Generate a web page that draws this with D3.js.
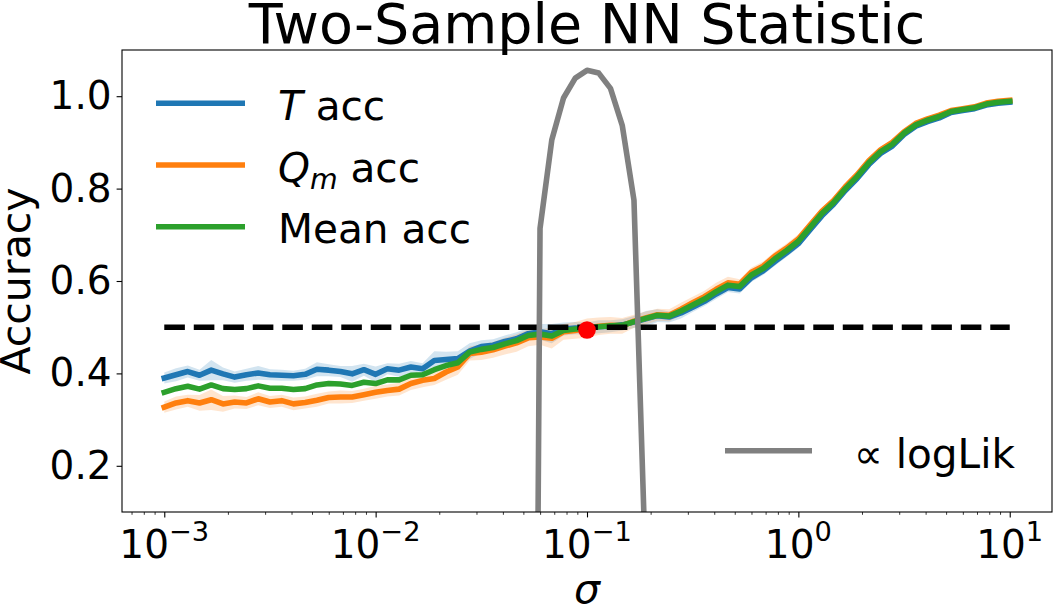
<!DOCTYPE html>
<html>
<head>
<meta charset="utf-8">
<script src="https://cdn.jsdelivr.net/npm/d3@7"></script>
<style>
  body { margin: 0; background: #fff; }
  text { font-family: "DejaVu Sans", sans-serif; fill: #000; }
</style>
</head>
<body>
<div id="chart"></div>
<script>
// sigma grid: np.logspace(-3, 1, 73)
const sigma = d3.range(73).map(i => Math.pow(10, -3 + i / 18));

// T accuracy
const accT = [
  0.390,0.397,0.404,0.396,0.407,0.399,0.392,0.397,0.401,0.397,
  0.396,0.395,0.398,0.409,0.407,0.404,0.399,0.408,0.398,0.410,
  0.407,0.414,0.410,0.428,0.430,0.432,0.448,0.458,0.461,0.469,
  0.475,0.486,0.490,0.486,0.496,0.498,0.497,0.501,0.502,0.505,
  0.511,0.518,0.525,0.522,0.531,0.543,0.556,0.572,0.586,0.583,
  0.607,0.622,0.642,0.661,0.681,0.711,0.741,0.766,0.796,0.822,
  0.852,0.876,0.892,0.917,0.935,0.945,0.953,0.965,0.969,0.973,
  0.981,0.985,0.987
];
// Q_m accuracy
const accQ = [
  0.327,0.336,0.341,0.336,0.343,0.334,0.338,0.336,0.345,0.338,
  0.341,0.334,0.337,0.342,0.348,0.349,0.349,0.354,0.359,0.363,
  0.366,0.378,0.385,0.389,0.403,0.414,0.443,0.446,0.451,0.459,
  0.466,0.477,0.479,0.476,0.490,0.493,0.498,0.502,0.504,0.503,
  0.513,0.520,0.527,0.526,0.539,0.553,0.566,0.582,0.596,0.593,
  0.619,0.632,0.654,0.671,0.691,0.721,0.751,0.774,0.804,0.830,
  0.860,0.884,0.900,0.923,0.941,0.951,0.959,0.969,0.973,0.977,
  0.985,0.989,0.991
];
// mean accuracy
const accMean = [
  0.359,0.367,0.372,0.366,0.375,0.367,0.365,0.367,0.373,0.368,
  0.368,0.365,0.367,0.375,0.378,0.377,0.374,0.381,0.378,0.386,
  0.386,0.396,0.397,0.408,0.417,0.423,0.446,0.452,0.456,0.464,
  0.471,0.482,0.485,0.481,0.493,0.496,0.497,0.501,0.503,0.504,
  0.512,0.519,0.526,0.524,0.535,0.548,0.561,0.577,0.591,0.588,
  0.613,0.627,0.648,0.666,0.686,0.716,0.746,0.770,0.800,0.826,
  0.856,0.880,0.896,0.920,0.938,0.948,0.956,0.967,0.971,0.975,
  0.983,0.987,0.989
];
// shaded band half-widths
const errT = [
  0.012,0.014,0.013,0.012,0.022,0.014,0.012,0.013,0.015,0.012,
  0.012,0.011,0.012,0.015,0.013,0.012,0.017,0.013,0.017,0.012,
  0.014,0.013,0.012,0.020,0.017,0.016,0.017,0.014,0.013,0.013,
  0.014,0.013,0.017,0.021,0.014,0.013,0.013,0.014,0.013,0.012,
  0.013,0.017,0.014,0.012,0.012,0.010,0.010,0.011,0.010,0.010,
  0.009,0.009,0.009,0.009,0.009,0.008,0.008,0.007,0.007,0.007,
  0.007,0.006,0.006,0.006,0.005,0.005,0.005,0.004,0.004,0.004,
  0.004,0.004,0.004
];
const errQ = [
  0.012,0.014,0.013,0.017,0.022,0.017,0.014,0.013,0.014,0.013,
  0.013,0.014,0.013,0.014,0.013,0.014,0.013,0.013,0.014,0.013,
  0.014,0.014,0.015,0.014,0.017,0.017,0.015,0.017,0.017,0.018,
  0.019,0.018,0.017,0.022,0.017,0.018,0.021,0.019,0.018,0.017,
  0.014,0.014,0.013,0.013,0.014,0.013,0.013,0.014,0.013,0.011,
  0.010,0.010,0.010,0.010,0.010,0.009,0.008,0.008,0.008,0.007,
  0.007,0.007,0.006,0.006,0.006,0.005,0.005,0.004,0.004,0.004,
  0.004,0.004,0.004
];
// scaled log-likelihood, visible part only (starts at sigma index 31)
const logLikStart = 31;
const logLik = [-3.0, 0.714, 0.905, 0.996, 1.039, 1.056, 1.050, 1.017, 0.937, 0.775, -0.03];

const chanceSigma = [1e-3, 1e1];
const chanceLevel = 0.5;
const bestSigma = 0.1, bestAcc = 0.494;

const yTicks = [0.2, 0.4, 0.6, 0.8, 1.0];
const xMajor = [-3, -2, -1, 0, 1];

const width = 1055, height = 608;
const margin = { top: 50, right: 3, bottom: 96, left: 122 };
const plotW = width - margin.left - margin.right;
const plotH = height - margin.top - margin.bottom;

const svg = d3.select("#chart").append("svg")
  .attr("width", width)
  .attr("height", height);

const g = svg.append("g")
  .attr("transform", `translate(${margin.left},${margin.top})`);

const x = d3.scaleLog()
  .domain([Math.pow(10, -3.2), Math.pow(10, 1.2)])
  .range([0, plotW]);
const y = d3.scaleLinear()
  .domain([0.1, 1.1])
  .range([plotH, 0]);

g.append("clipPath").attr("id", "clip")
  .append("rect").attr("width", plotW).attr("height", plotH);

const plot = g.append("g").attr("clip-path", "url(#clip)");

const series = [
  { vals: accT, err: errT, color: "#1f77b4" },
  { vals: accQ, err: errQ, color: "#ff7f0e" },
  { vals: accMean, err: null, color: "#2ca02c" }
];

// bands
series.filter(s => s.err).forEach(s => {
  const area = d3.area()
    .x((d, i) => x(sigma[i]))
    .y0((d, i) => y(d - s.err[i]))
    .y1((d, i) => y(d + s.err[i]));
  plot.append("path")
    .attr("d", area(s.vals))
    .attr("fill", s.color)
    .attr("fill-opacity", 0.2);
});

// lines
series.forEach(s => {
  const line = d3.line().x((d, i) => x(sigma[i])).y(d => y(d));
  plot.append("path")
    .attr("d", line(s.vals))
    .attr("fill", "none")
    .attr("stroke", s.color)
    .attr("stroke-width", 5.6)
    .attr("stroke-linejoin", "round")
    .attr("stroke-linecap", "square");
});

// chance level
plot.append("line")
  .attr("x1", x(chanceSigma[0])).attr("x2", x(chanceSigma[1]))
  .attr("y1", y(chanceLevel)).attr("y2", y(chanceLevel))
  .attr("stroke", "#000")
  .attr("stroke-width", 5.6)
  .attr("stroke-dasharray", "20.6,8.9");

// log-likelihood
const llLine = d3.line()
  .x((d, i) => x(sigma[logLikStart + i]))
  .y(d => y(d));
plot.append("path")
  .attr("d", llLine(logLik))
  .attr("fill", "none")
  .attr("stroke", "#808080")
  .attr("stroke-width", 5.6)
  .attr("stroke-linejoin", "round");

// best sigma
plot.append("circle")
  .attr("cx", x(bestSigma)).attr("cy", y(bestAcc))
  .attr("r", 8.8)
  .attr("fill", "#ff0000");

// y axis
const yAxis = d3.axisLeft(y)
  .tickValues(yTicks)
  .tickFormat(d3.format(".1f"))
  .tickSize(5.4)
  .tickPadding(5)
  .tickSizeOuter(0);
const yAxisG = g.append("g").call(yAxis);
yAxisG.select(".domain").remove();
yAxisG.selectAll("line").attr("stroke", "#000").attr("stroke-width", 1.1);
yAxisG.selectAll("text")
  .style("font-family", "'DejaVu Sans', sans-serif")
  .attr("font-size", 39)
  .attr("fill", "#000");

// x axis: minor ticks
const minor = [];
for (let e = -4; e <= 1; e++) {
  for (let m = 2; m <= 9; m++) {
    const v = m * Math.pow(10, e);
    if (v >= x.domain()[0] && v <= x.domain()[1]) minor.push(v);
  }
}
const xMinorG = g.append("g")
  .attr("transform", `translate(0,${plotH})`)
  .call(d3.axisBottom(x).tickValues(minor).tickFormat("").tickSize(2.8).tickSizeOuter(0));
xMinorG.select(".domain").remove();
xMinorG.selectAll("line").attr("stroke", "#000").attr("stroke-width", 0.8);

const xMajorG = g.append("g")
  .attr("transform", `translate(0,${plotH})`)
  .call(d3.axisBottom(x).tickValues(xMajor.map(e => Math.pow(10, e))).tickFormat("").tickSize(5.4).tickSizeOuter(0));
xMajorG.select(".domain").remove();
xMajorG.selectAll("line").attr("stroke", "#000").attr("stroke-width", 1.1);

xMajor.forEach(e => {
  const t = g.append("text")
    .attr("x", x(Math.pow(10, e)))
    .attr("y", plotH + 46)
    .attr("text-anchor", "middle")
    .attr("font-size", 39);
  t.append("tspan").text("10");
  t.append("tspan")
    .attr("font-size", 27.3)
    .attr("dy", -17)
    .text(e < 0 ? "\u2212" + (-e) : String(e));
});

// spines
g.append("rect")
  .attr("width", plotW).attr("height", plotH)
  .attr("fill", "none")
  .attr("stroke", "#000")
  .attr("stroke-width", 1.1);

// labels
svg.append("text")
  .attr("x", margin.left + plotW / 2)
  .attr("y", 43)
  .attr("text-anchor", "middle")
  .attr("font-size", 55.5)
  .text("Two-Sample NN Statistic");

svg.append("text")
  .attr("transform", `translate(30,${margin.top + plotH / 2}) rotate(-90)`)
  .attr("text-anchor", "middle")
  .attr("font-size", 41)
  .text("Accuracy");

svg.append("text")
  .attr("x", margin.left + plotW / 2)
  .attr("y", 603)
  .attr("text-anchor", "middle")
  .attr("font-size", 41)
  .attr("font-style", "italic")
  .text("\u03c3");

// legend (upper left)
const legendItems = [
  { color: "#1f77b4", parts: [["T", "italic", 0], [" acc", "normal", 0]] },
  { color: "#ff7f0e", parts: [["Q", "italic", 0], ["m", "italic", 7], [" acc", "normal", -7]] },
  { color: "#2ca02c", parts: [["Mean acc", "normal", 0]] }
];
legendItems.forEach((it, i) => {
  const ly = 103.3 + i * 61.7;
  svg.append("line")
    .attr("x1", 156).attr("x2", 245)
    .attr("y1", ly).attr("y2", ly)
    .attr("stroke", it.color)
    .attr("stroke-width", 5.6);
  const t = svg.append("text")
    .attr("x", 278).attr("y", ly + 16.7)
    .attr("font-size", 40.6);
  it.parts.forEach(p => {
    const ts = t.append("tspan")
      .attr("font-style", p[1])
      .attr("dy", p[2])
      .text(p[0]);
    if (p[0] === "m") ts.attr("font-size", 28.4);
  });
});

// legend (lower right)
svg.append("line")
  .attr("x1", 725).attr("x2", 812)
  .attr("y1", 450.8).attr("y2", 450.8)
  .attr("stroke", "#808080")
  .attr("stroke-width", 5.6);
svg.append("text")
  .attr("x", 1015).attr("y", 467.5)
  .attr("text-anchor", "end")
  .attr("font-size", 40.6)
  .text("\u221d logLik");
</script>
</body>
</html>
